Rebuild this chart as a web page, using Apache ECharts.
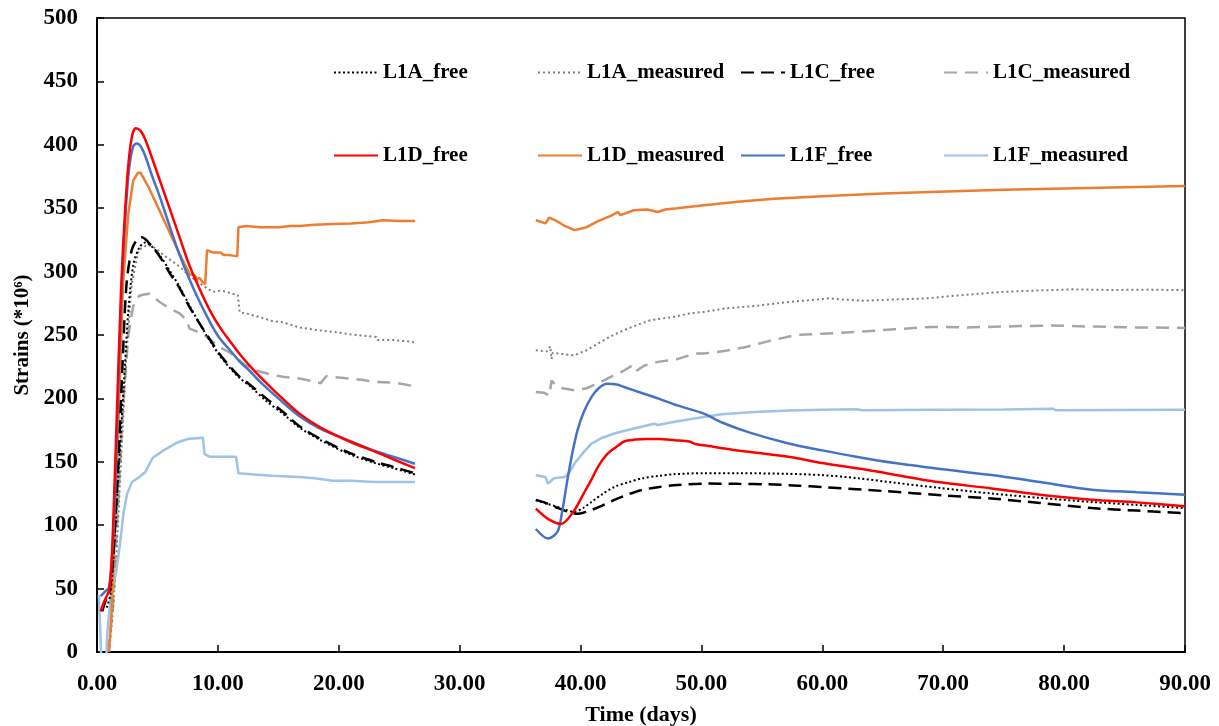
<!DOCTYPE html>
<html>
<head>
<meta charset="utf-8">
<script src="https://cdn.jsdelivr.net/npm/echarts@6/dist/echarts.min.js"></script>
<style>
  html, body { margin: 0; padding: 0; background: #fff; }
  #chart { width: 1219px; height: 726px; }
</style>
</head>
<body>
<div id="chart"></div>
<script>
// values, [day, strain]; "_a" = first period, "_b" = second period
var L1A_free_a = [[0.8,35],[1.1,45],[1.4,80],[1.8,145],[2.2,208],[2.6,270],[3.0,305],[3.5,319],[4.0,323],[4.5,320],[5.18,313],[6.0,301],[6.83,288],[7.6,274],[8.49,259],[9.3,246],[10.14,234],[11.0,224],[11.8,216],[12.62,210],[14,198],[15.5,187],[16.75,177],[18.5,167],[20.9,156],[23,149],[24.5,145],[26.3,140]];
var L1A_free_b = [[36.3,119.7],[37.2,117],[38.1,114.4],[38.8,112],[39.5,110.5],[40.2,113.5],[40.9,118.3],[41.8,124.5],[42.8,130.2],[44,134],[45,136.8],[46.4,138.8],[47.7,140.2],[50.2,141],[53,141],[57.2,140.5],[60,139.5],[63,137],[66,133.5],[69.6,129.5],[74,125],[78,121.5],[82.3,118.3],[86,116],[90,113.5]];

var L1A_meas_a = [[1.0,0],[1.3,30],[1.58,70],[2.0,153],[2.44,235],[2.87,290],[3.44,317],[4.16,321],[4.6,320],[5.5,313],[6.83,304],[7.6,297],[8.49,291],[9.04,287],[9.6,284],[10.2,285],[10.8,284],[11.0,283],[11.65,281.5],[11.8,268],[12.35,267],[13.5,264],[14.5,261],[15.37,260],[16.75,256],[18.1,254],[19.5,252.5],[21,250.5],[22.5,249],[23.1,248.5],[23.2,246],[24.5,246],[26.1,244.6],[26.3,244]];
var L1A_meas_b = [[36.3,238],[37.2,237],[37.5,241],[37.6,231],[37.7,236],[38.5,235],[39.5,234],[40.5,238],[41.7,244.6],[42.7,250],[43.6,253.8],[44.7,258],[45.8,261.7],[47.7,264.3],[49,267],[50.2,268.2],[52,271],[54.5,273],[57.2,276],[60.5,278.8],[63.3,277],[66,278],[68.5,278.8],[71,281],[74.9,284],[77.5,285],[80.7,286],[84,285.5],[87,285.8],[90,285.3]];

var L1C_free_a = [[0.43,32],[0.7,40],[1.0,46],[1.3,70],[1.72,139],[2.15,235],[2.44,290],[2.87,317],[3.3,325],[3.7,327],[4.45,321],[5.18,312],[6.0,299],[6.83,287],[7.6,273],[8.49,259],[9.3,247],[10.14,235],[11.0,225],[11.8,217],[12.62,211],[14,200],[15.5,188.5],[16.75,178],[18.5,168],[20.9,157],[23,150],[24.5,146],[26.3,141]];
var L1C_free_b = [[36.3,120],[37,118],[38.1,113.6],[39.0,110.5],[39.75,109],[40.3,110],[40.9,112],[41.8,115.5],[42.8,120],[44,124.5],[45,127.6],[46.4,130],[47.7,131.5],[50.2,132.8],[53,132.6],[55.4,132.3],[58,131.2],[60,130],[65,127],[70,123.5],[74,121],[78,117.5],[82.3,113.5],[86,111.5],[90,109.5]];

var L1C_meas_a = [[0.86,0],[1.29,30],[1.5,70],[1.72,112],[1.95,155],[2.15,194],[2.4,225],[2.58,249],[3.0,273],[3.5,281],[3.9,282],[4.35,282.5],[4.8,279],[5.18,276],[6.0,271],[6.83,267],[7.39,262],[7.66,255],[8.2,253],[8.76,251],[9.4,246],[10.14,240.5],[11.0,236],[11.5,233],[12.0,228],[12.62,224],[13.2,222],[14.3,219],[15.37,217],[16.75,215.7],[18.1,213],[18.5,212],[18.96,217.5],[20,216.5],[20.9,215.7],[22,214.5],[23.1,213],[24.6,212.5],[26.3,209.5]];
var L1C_meas_b = [[36.3,205],[37.0,204.5],[37.4,202],[37.6,214],[37.9,211],[38.5,208],[39.5,206.4],[40.5,208],[41.4,211.7],[42.5,217],[43.6,222],[44.2,225.5],[44.5,221],[45.3,226],[46.4,228.8],[48,231],[49.5,235.4],[50.2,235.4],[52,237.5],[53.7,240.6],[55.5,245],[57.8,250],[60,251],[62.8,252.4],[66,254.5],[69.1,256.4],[72,256],[76.3,257],[79,257.5],[82.1,256.7],[86,256],[90,255.6]];

var L1D_free_a = [[0.3,32],[0.6,40],[1.0,49],[1.2,70],[1.4,118],[1.7,205],[2.0,288],[2.3,344],[2.6,385],[2.9,407],[3.2,413],[3.6,411],[4.0,404],[4.5,391],[5.2,372],[6.0,350],[6.8,328],[7.6,306],[8.5,286],[9.3,270],[10.1,257],[11.0,245],[11.8,235],[12.6,226],[13.5,217],[15.0,203],[16.75,188],[18.5,177],[20.9,166],[23.0,158],[24.5,152],[26.3,145]];
var L1D_free_b = [[36.3,113],[37.3,105],[38.4,101],[39.5,112],[40.2,124],[40.9,136],[41.5,147],[42.2,156],[43.0,162],[43.6,166],[44.5,167.5],[45.5,168],[46.5,168],[47.8,167],[49.0,166],[49.5,164],[50.2,163],[53.0,159],[57.2,154],[60.0,149],[64.1,143],[69.6,134],[74.0,129],[78.0,124],[82.3,120],[86.0,118],[90,115]];

var L1D_meas_a = [[1.0,0],[1.2,30],[1.38,70],[1.58,125],[1.87,208],[2.15,290],[2.58,345],[3.0,372],[3.4,378],[3.6,378],[4.3,366],[5.18,348],[6.0,331],[6.83,314],[7.3,305],[7.66,298],[8.1,297],[8.3,294],[8.49,295],[8.7,292],[8.95,290],[9.1,317],[9.6,315],[10.2,315],[10.5,313],[11.0,313],[11.6,312],[11.7,335],[12.3,336],[13.5,335],[15,335],[16.0,336],[16.75,336],[18,337],[19.5,337.5],[21,338],[22.5,339],[23.65,340.5],[25,340],[26.3,340]];
var L1D_meas_b = [[36.3,340.5],[37.1,338],[37.4,342.5],[38,340],[38.7,336],[39.5,332.7],[40.5,335],[41.5,340],[42.5,344],[43.1,347],[43.3,344.5],[44.4,348.4],[45.5,349],[46.4,347],[47,349],[48,350],[50.2,352.4],[53,355],[56,357.5],[60,359.5],[65,361.5],[69.6,363],[75,364.5],[80,365.5],[85,366.5],[90,367.5]];

var L1F_free_a = [[0.3,44],[0.7,48],[1.0,51],[1.3,84],[1.5,125],[1.72,194],[2.0,276],[2.3,336],[2.64,380],[3.0,399],[3.3,401],[3.6,399],[4.0,391],[4.5,377],[5.2,359],[6.0,336],[6.8,314],[7.6,295],[8.5,276],[9.3,261],[10.1,248],[11.0,238],[11.8,229],[12.6,222],[13.5,213],[15,200],[16.75,186],[18.5,176],[20.9,166.5],[23,158.5],[24.5,154],[26.3,148.5]];
var L1F_free_b = [[36.3,97],[37.3,89.5],[38.1,95],[38.5,112],[38.9,135],[39.3,156],[39.75,175],[40.3,190],[40.9,201],[41.5,208],[42.2,211.5],[43.0,211],[43.6,209],[45.0,204.5],[46.4,200],[48.0,194.5],[50.2,188],[51.7,181],[54.0,173],[57.2,164.5],[60,159],[62.8,154],[66,149],[69.6,144.5],[74,139.5],[78,134],[82.3,128],[86,126],[90,124]];

var L1F_meas_a = [[0.15,45],[0.3,10],[0.4,-20],[0.7,-20],[0.85,15],[0.95,25],[1.1,40],[1.3,52],[1.6,64],[1.9,85],[2.2,110],[2.5,125],[2.9,134],[3.5,138],[4.0,142],[4.6,153],[5.5,159],[6.6,165],[7.5,168],[8.76,169],[8.9,156],[9.3,154],[10.5,154],[11.5,154],[11.7,141],[13,140],[14.5,139],[16.75,138],[18,137],[19.5,135],[21,135],[23,134],[26.3,134]];
var L1F_meas_b = [[36.3,139.4],[37.1,138],[37.3,132.8],[37.8,137],[38.7,138],[39.1,142],[39.5,148.6],[40.2,157],[40.9,164.4],[41.8,169],[42.8,172.3],[44.4,176.2],[46.1,180],[46.2,181],[46.4,179],[48,182],[50.2,185.4],[51.7,187.5],[54,189],[57.2,190.5],[60,191],[62.8,191.5],[63.3,190.6],[66,190.8],[69.6,191],[75,191.3],[79.1,191.9],[79.3,190.7],[84,190.8],[90,191]];

var xTicks = [0, 10, 20, 30, 40, 50, 60, 70, 80, 90];

var font = 'Liberation Serif';

// gap between the two measuring periods
function join(a, b) {
  return a.concat([[31, '-']], b);
}

function line(name, a, b, color, width, type, smooth) {
  return {
    name: name,
    type: 'line',
    data: join(a, b),
    symbol: 'none',
    smooth: smooth ? 0.3 : false,
    connectNulls: false,
    clip: true,
    lineStyle: { color: color, width: width, type: type },
    itemStyle: { color: color },
    emphasis: { disabled: true }
  };
}

function legendCol(left, names) {
  return {
    orient: 'vertical',
    left: left,
    top: 57,
    itemWidth: 44,
    itemHeight: 14,
    itemGap: 62,
    data: names,
    selectedMode: false,
    itemStyle: { opacity: 0 },
    textStyle: { fontFamily: font, fontWeight: 'bold', fontSize: 21, color: '#000' }
  };
}

var chart = echarts.init(document.getElementById('chart'));
var option = {
  animation: false,
  backgroundColor: '#fff',
  grid: {
    left: 97, right: 34, top: 18, bottom: 74,
    outerBoundsMode: 'none',
    show: true, borderColor: '#000', borderWidth: 1.5
  },
  legend: [
    legendCol(328, ['L1A_free', 'L1D_free']),
    legendCol(532, ['L1A_measured', 'L1D_measured']),
    legendCol(735, ['L1C_free', 'L1F_free']),
    legendCol(938, ['L1C_measured', 'L1F_measured'])
  ],
  xAxis: {
    type: 'value',
    min: 0,
    max: 90,
    interval: 10,
    name: 'Time (days)',
    nameLocation: 'middle',
    nameGap: 52,
    nameTextStyle: { fontFamily: font, fontWeight: 'bold', fontSize: 22, color: '#000' },
    axisLine: { lineStyle: { color: '#000', width: 2 } },
    axisTick: { inside: true, length: 7, lineStyle: { color: '#000', width: 1.5 } },
    splitLine: { show: false },
    axisLabel: {
      margin: 21,
      fontFamily: font, fontWeight: 'bold', fontSize: 23, color: '#000',
      formatter: function (v) { return xTicks.indexOf(v) >= 0 ? v.toFixed(2) : ''; }
    }
  },
  yAxis: {
    type: 'value',
    min: 0,
    max: 500,
    interval: 50,
    name: 'Strains (*10\u2076)',
    nameLocation: 'middle',
    nameGap: 61,
    nameRotate: 90,
    nameTextStyle: { fontFamily: font, fontWeight: 'bold', fontSize: 21, color: '#000' },
    axisLine: { show: true, lineStyle: { color: '#000', width: 2 } },
    axisTick: { show: true, inside: true, length: 7, lineStyle: { color: '#000', width: 1.5 } },
    splitLine: { show: false },
    axisLabel: { margin: 19, fontFamily: font, fontWeight: 'bold', fontSize: 23, color: '#000' }
  },
  series: [
    line('L1C_measured', L1C_meas_a, L1C_meas_b, '#a6a6a6', 2.5, [13, 8], false),
    line('L1A_measured', L1A_meas_a, L1A_meas_b, '#7f7f7f', 2, [2, 3], false),
    line('L1F_measured', L1F_meas_a, L1F_meas_b, '#9dc3e6', 2.5, 'solid', false),
    line('L1D_measured', L1D_meas_a, L1D_meas_b, '#ed7d31', 2.5, 'solid', false),
    line('L1A_free', L1A_free_a, L1A_free_b, '#000000', 2, [2, 2.5], true),
    line('L1C_free', L1C_free_a, L1C_free_b, '#000000', 2.5, [13, 7], true),
    line('L1F_free', L1F_free_a, L1F_free_b, '#4472c4', 2.5, 'solid', true),
    line('L1D_free', L1D_free_a, L1D_free_b, '#ff0000', 2.5, 'solid', true)
  ]
};
chart.setOption(option);
</script>
</body>
</html>
